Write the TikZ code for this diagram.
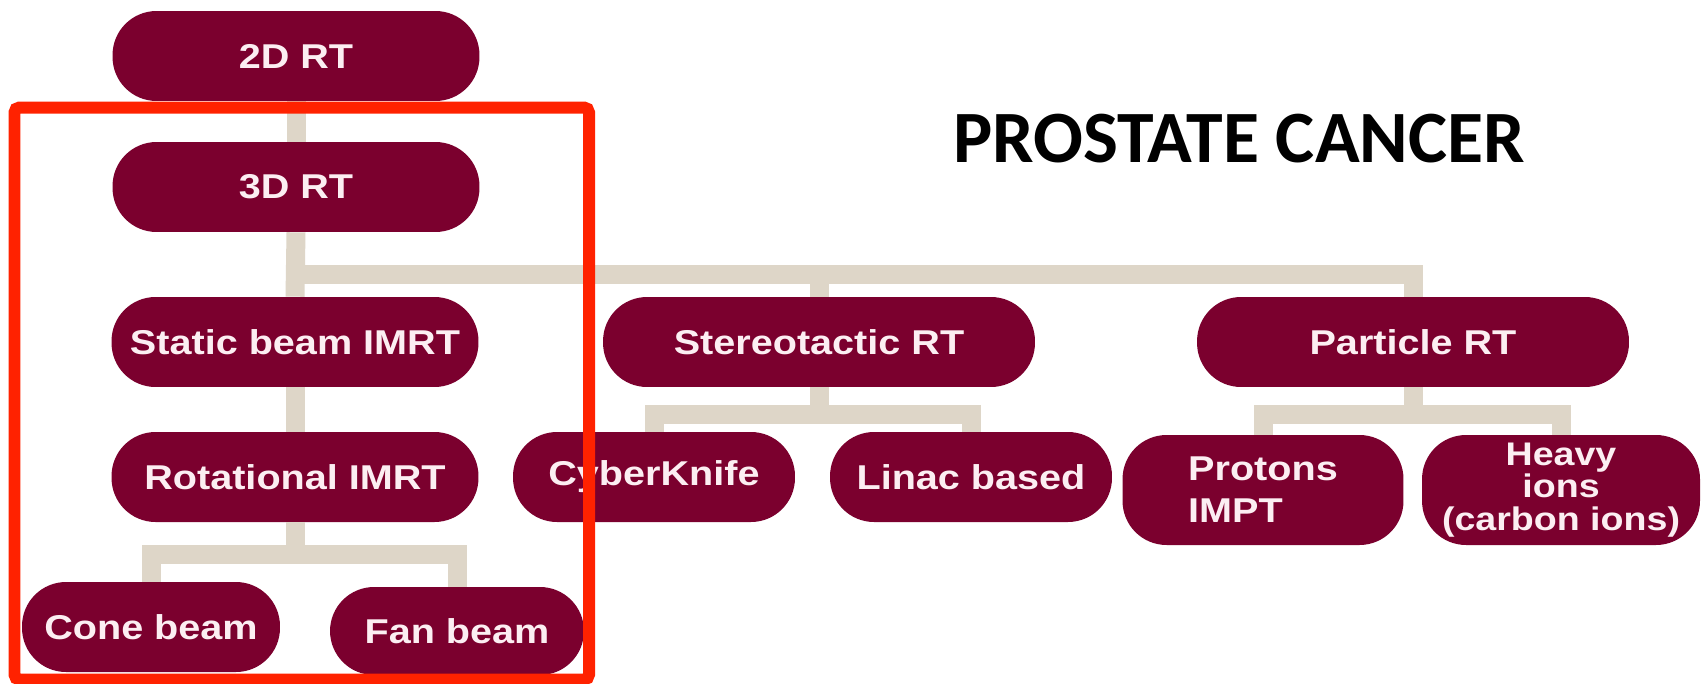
\documentclass[tikz,border=0pt]{standalone}
\usepackage{fontspec}
\setmainfont{Liberation Sans}
\newfontfamily\boxfont{Liberation Sans}[FakeStretch=1.15]
\newfontfamily\headfont{Carlito}
\usetikzlibrary{positioning, calc}
\definecolor{wine}{RGB}{123,0,46}
\definecolor{sand}{RGB}{222,214,200}
\definecolor{alarm}{RGB}{255,34,0}
\definecolor{pinkwhite}{RGB}{252,238,242}
\tikzset{
  box/.style={fill=wine, text=pinkwhite, rounded corners=0.88cm, minimum height=1.8cm, inner sep=0pt,
    font={\boxfont\bfseries\fontsize{19.6pt}{24pt}\selectfont}},
  wide/.style={box, minimum width=7.34cm},
  wider/.style={box, minimum width=8.64cm},
  small/.style={box, minimum width=5.64cm},
  link/.style={draw=sand, line width=0.38cm},
  hilite/.style={draw=alarm, line width=0.24cm, rounded corners=0.1cm},
  heading/.style={font={\headfont\bfseries\fontsize{42pt}{48pt}\selectfont}, inner sep=0pt}
}

\begin{document}
\begin{tikzpicture}[x=0.02cm, y=-0.02cm]
	\path[use as bounding box, fill=white] (0,0) rectangle (1702,683);
	\node[wide] (r2d) at (296,56) {2D RT};
	\node[wide] (r3d) at (296,187) {3D RT};
	\node[wide] (stat) at (295,342) {Static beam IMRT};
	\node[wide] (rot) at (295,477) {Rotational IMRT};
	\node[box, minimum width=5.16cm] (cone) at (151,627) {Cone beam};
	\node[box, minimum width=5.08cm, minimum height=1.76cm] (fan) at (457,631) {Fan beam};
	\node[wider] (stereo) at (819,342) {Stereotactic RT};
	\node[small] (cyber) at (654,477) {CyberKnife};
	\node[small] (linac) at (971,477) {Linac based};
	\node[wider] (particle) at (1413,342) {Particle RT};
	\node[small, minimum width=5.62cm, minimum height=2.2cm, align=left] (protons) at (1263,490) {Protons\\IMPT};
	\node[small, minimum width=5.56cm, minimum height=2.2cm, align=center,
	  font={\boxfont\bfseries\fontsize{18.6pt}{18.4pt}\selectfont}] (heavy) at (1561,490) {Heavy\\ions\\(carbon ions)};
	\node[heading, anchor=base] (title) at (1239,162) {PROSTATE CANCER};
	\coordinate (jmain) at (295,274);
	\coordinate (jst) at (819,414);
	\coordinate (jpa) at (1413,414);
	\coordinate (jrot) at (295,554);
	\draw[link] (r2d.south) -- (r3d.north);
	\draw[link] (r3d.south) -- (stat.north);
	\draw[link] (stat.south) -- (rot.north);
	\draw[link] (jmain) -| (particle.north);
	\draw[link] (stereo.north) -- (stereo.north |- jmain);
	\draw[link] (stereo.south) -- (jst);
	\draw[link] (cyber.north) |- (jst) -| (linac.north);
	\draw[link] (particle.south) -- (jpa);
	\draw[link] (protons.north) |- (jpa) -| (heavy.north);
	\draw[link] (rot.south) -- (jrot);
	\draw[link] (cone.north) |- (jrot) -| (fan.north);
	\draw[hilite] (14.5,107.5) rectangle (589,679.5);
\end{tikzpicture}
\end{document}
